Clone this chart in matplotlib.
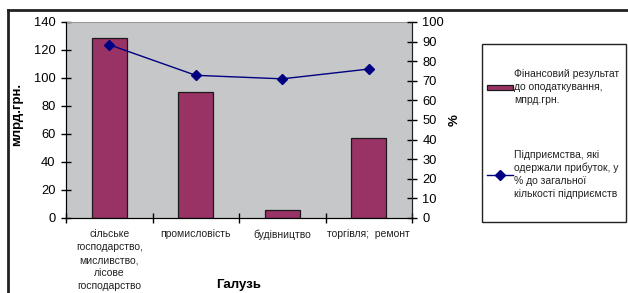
import matplotlib
matplotlib.use("Agg")
import matplotlib.pyplot as plt
from matplotlib.patches import Rectangle
from matplotlib.lines import Line2D
import numpy as np

plt.rcParams['font.family'] = ['Liberation Sans', 'DejaVu Sans']

# дані
galuzi = ['сільське\nгосподарство,\nмисливство,\nлісове\nгосподарство',
          'промисловість', 'будівництво', 'торгівля;  ремонт']
fin_rezultat = [128.7, 90.2, 5.6, 57.0]
prybutkovi = [88.4, 72.8, 71.0, 76.0]

bar_color = '#993366'
line_color = '#000080'

fig = plt.figure(figsize=(6.28, 2.93), dpi=100)
ax = fig.add_axes([66/628, 1 - 218/293, 346/628, 196/293])
ax.set_facecolor('#C6C7C9')

x = np.arange(len(galuzi))
bars = ax.bar(x, fin_rezultat, width=0.4, color=bar_color, edgecolor='#1a1a1a', linewidth=0.9,
              zorder=2, label='Фінансовий результат\nдо оподаткування,\nмпрд.грн.')
ax.set_xlim(-0.5, len(galuzi) - 0.5)
ax.set_ylim(0, 140)
ax.set_yticks(range(0, 141, 20))
ax.set_xticks(np.arange(-0.5, len(galuzi), 1.0))
ax.set_xticklabels([])
ax.set_xticks(x, minor=True)
ax.set_xticklabels(galuzi, minor=True, fontsize=7.5, color='#222222', linespacing=1.38)
ax.tick_params(axis='x', which='minor', length=0, pad=8)
ax.tick_params(axis='x', which='major', direction='inout', length=6.5, width=1)
ax.tick_params(axis='y', direction='inout', length=6.5, width=1, labelsize=9.3, pad=4.3)
ax.set_ylabel('млрд.грн.', fontsize=9.5, fontweight='bold', va='center')
ax.yaxis.set_label_coords(-49/346, 0.53)
ax.set_xlabel('Галузь', fontsize=9.5, fontweight='bold', va='center')
ax.xaxis.set_label_coords(0.5, -67/196)
for s in ['left', 'bottom', 'right']:
    ax.spines[s].set_color('#222222')
ax.spines['top'].set_color('#9a9a9a')
ax.spines['top'].set_linewidth(0.8)

ax2 = ax.twinx()
line, = ax2.plot(x, prybutkovi, color=line_color, marker='D', markersize=5.5, linewidth=1,
                 zorder=3, label='Підприємства, які\nодержали прибуток, у\n% до загальної\nкількості підприємств')
ax2.set_ylim(0, 100)
ax2.set_yticks(range(0, 101, 10))
ax2.tick_params(axis='y', direction='inout', length=6.5, width=1, labelsize=9.3, pad=4.3)
ax2.set_ylabel('%', fontsize=9.5, fontweight='bold', va='center')
ax2.yaxis.set_label_coords(389/346, 0.5)
ax2.spines['right'].set_color('#222222')
ax2.spines['top'].set_visible(False)

# рамка легенди
fig.patches.append(Rectangle((482/628, 1 - 222/293), 144/628, 178/293, transform=fig.transFigure,
                             facecolor='white', edgecolor='#222222', linewidth=1))
leg = fig.legend(handles=[bars, line], loc='upper left', bbox_to_anchor=(478/628, 1 - 60/293),
                 frameon=False, fontsize=7.5, handlelength=2.5, handletextpad=0.05,
                 labelspacing=4.3, handleheight=0.5)
for t in leg.get_texts():
    t.set_color('#222222')
    t.set_linespacing(1.35)

# зовнішня рамка
fig.add_artist(Line2D([8/628, 1], [1 - 10/293, 1 - 10/293], transform=fig.transFigure,
                      color='#222222', linewidth=2))
fig.add_artist(Line2D([8/628, 8/628], [0, 1 - 10/293], transform=fig.transFigure,
                      color='#222222', linewidth=2))

fig.savefig('out.png', dpi=100)
